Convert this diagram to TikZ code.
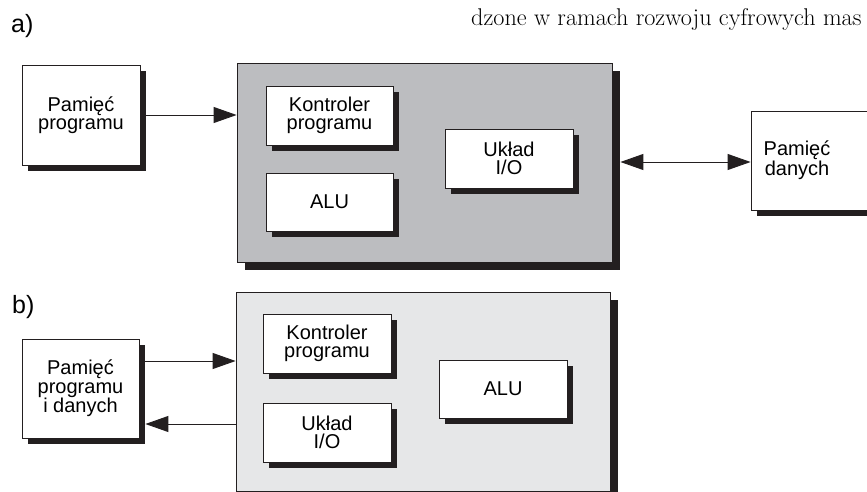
\documentclass[tikz,border=0pt]{standalone}
\usepackage{fontspec}
\setsansfont{Liberation Sans}
\usetikzlibrary{arrows.meta,shadows,calc}
\definecolor{ink}{HTML}{231F20}
\definecolor{cpuA}{HTML}{BCBDC0}
\definecolor{cpuB}{HTML}{E6E7E8}
\tikzset{
  unit/.style={draw=ink, line width=0.8pt, fill=white, inner sep=0pt,
    align=center, font=\sffamily\fontsize{20}{18.5}\selectfont,
    drop shadow={shadow xshift=6pt, shadow yshift=-6pt, opacity=1, fill=ink}},
  core/.style={draw=ink, line width=0.8pt, inner sep=0pt,
    drop shadow={shadow xshift=8pt, shadow yshift=-8pt, opacity=1, fill=ink}},
  txt/.style={inner sep=0pt, align=center, font=\sffamily\fontsize{20}{18.5}\selectfont},
  tag/.style={inner sep=0pt, anchor=base west, font=\sffamily\fontsize{25}{25}\selectfont},
  link/.style={draw=ink, line width=0.9pt},
  tip/.style={-{Triangle[length=23pt,width=16pt]}},
  tips/.style={{Triangle[length=23pt,width=16pt]}-{Triangle[length=23pt,width=16pt]}}
}
\begin{document}
\begin{tikzpicture}[x=1pt,y=-1pt]
\useasboundingbox (0,0) rectangle (867,492);
\clip (0,0) rectangle (867,492);

% running text above the figure
\node[inner sep=0pt, anchor=base west, font=\fontsize{24.2}{26}\selectfont]
  (para) at (471,26) {dzone w ramach rozwoju cyfrowych mas};

% ---------- a) ----------
\node[tag] (la) at (11,33) {a)};
\node[unit, minimum width=118pt, minimum height=100pt] (pp) at (81,115) {Pamięć\\programu};
\node[core, fill=cpuA, minimum width=375pt, minimum height=199pt] (cA) at (424.5,162.5) {};
\node[unit, minimum width=127pt, minimum height=59pt] (kA) at (329.5,115.5) {Kontroler\\programu};
\node[unit, minimum width=127pt, minimum height=58pt] (aluA) at (329.5,202) {ALU};
\node[unit, minimum width=128pt, minimum height=59pt] (ioA) at (509,158.5) {Układ\\I/O};
\node[unit, minimum width=140pt, minimum height=99pt] (pd) at (821,160.5) {};
\node[txt] (pdt) at (797,160) {Pamięć\\danych};

\draw[link, tip] (pp.east) -- (pp.east -| cA.west);
\coordinate (aR) at ($(cA.east)+(8,-0.5)$);
\draw[link, tips] (aR) -- (aR -| pd.west);

% ---------- b) ----------
\node[tag] (lb) at (12,313) {b)};
\node[unit, minimum width=117pt, minimum height=99pt] (ppd) at (80.5,388.5) {Pamięć\\programu\\i danych};
\node[core, fill=cpuB, minimum width=374pt, minimum height=199pt] (cB) at (423,391.5) {};
\node[unit, minimum width=128pt, minimum height=59pt] (kB) at (327,343.5) {Kontroler\\programu};
\node[unit, minimum width=128pt, minimum height=59pt] (ioB) at (327,432.5) {Układ\\I/O};
\node[unit, minimum width=128pt, minimum height=58pt] (aluB) at (503,389) {ALU};

\coordinate (bIn) at ($(ppd.east)+(0,-27.5)$);
\draw[link, tip] (bIn) -- (bIn -| cB.west);
\coordinate (bOut) at ($(cB.west)+(0,32.5)$);
\coordinate (bEnd) at ($(ppd.east)+(6,0)$);
\draw[link, tip] (bOut) -- (bOut -| bEnd);
\end{tikzpicture}
\end{document}
